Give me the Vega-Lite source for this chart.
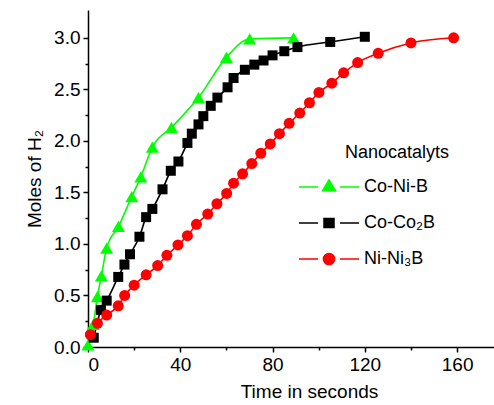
{
  "$schema": "https://vega.github.io/schema/vega-lite/v6.json",
  "width": 406,
  "height": 337,
  "autosize": {"type": "none"},
  "padding": {"left": 88, "top": 10, "right": 0, "bottom": 58},
  "config": {
    "view": {"stroke": null},
    "font": "Liberation Sans",
    "axis": {
      "grid": false,
      "domainColor": "black",
      "tickColor": "black",
      "labelColor": "black",
      "titleColor": "black",
      "labelFontSize": 19,
      "titleFontSize": 19,
      "titleFontWeight": "normal",
      "domainWidth": 1.5,
      "tickWidth": 1.5
    },
    "legend": {
      "title": "Nanocatalyts", "orient": "none", "legendX": 210, "legendY": 134, "symbolSize": 400, "labelOffset": 44, "rowPadding": 16, "titlePadding": 14, "labelFontSize": 18, "titleFontSize": 18, "titleFontWeight": "normal", "labelColor": "black", "titleColor": "black", "symbolStrokeWidth": 1.5, "symbolOpacity": 1,
      "symbolType": {"expr": "datum.value === 'Co-Ni-B' ? 'M-1,0H0.9M3.1,0H5M2,-0.7L2.65,0.37L1.35,0.37Z' : (datum.value === 'Ni-Ni₃B' ? 'M-1,0H0.9M3.1,0H5M2.56,0A0.56,0.56,0,1,1,1.44,0A0.56,0.56,0,1,1,2.56,0Z' : 'M-1,0H0.9M3.1,0H5M1.5,-0.45H2.5V0.45H1.5Z')"},
      "symbolFillColor": {"expr": "scale('color', datum.value)"},
      "symbolStrokeColor": {"expr": "scale('color', datum.value)"}
    }
  },
  "data": {
    "values": [
      {"s": "Co-Ni-B", "t": 0, "m": 0.02},
      {"s": "Co-Ni-B", "t": 2.3, "m": 0.22},
      {"s": "Co-Ni-B", "t": 4.1, "m": 0.49},
      {"s": "Co-Ni-B", "t": 5.8, "m": 0.69},
      {"s": "Co-Ni-B", "t": 8.1, "m": 0.96},
      {"s": "Co-Ni-B", "t": 13.2, "m": 1.17},
      {"s": "Co-Ni-B", "t": 19, "m": 1.46},
      {"s": "Co-Ni-B", "t": 22.9, "m": 1.65},
      {"s": "Co-Ni-B", "t": 27.9, "m": 1.94},
      {"s": "Co-Ni-B", "t": 36.2, "m": 2.13},
      {"s": "Co-Ni-B", "t": 47.9, "m": 2.42},
      {"s": "Co-Ni-B", "t": 60, "m": 2.81},
      {"s": "Co-Ni-B", "t": 70.1, "m": 2.99},
      {"s": "Co-Ni-B", "t": 89.1, "m": 3.0},
      {"s": "Co-Co₂B", "t": 2.5, "m": 0.09},
      {"s": "Co-Co₂B", "t": 5.6, "m": 0.36},
      {"s": "Co-Co₂B", "t": 8.1, "m": 0.45},
      {"s": "Co-Co₂B", "t": 13.1, "m": 0.68},
      {"s": "Co-Co₂B", "t": 15.8, "m": 0.8},
      {"s": "Co-Co₂B", "t": 18.2, "m": 0.9},
      {"s": "Co-Co₂B", "t": 22.3, "m": 1.07},
      {"s": "Co-Co₂B", "t": 25.2, "m": 1.26},
      {"s": "Co-Co₂B", "t": 27.9, "m": 1.34},
      {"s": "Co-Co₂B", "t": 32.3, "m": 1.53},
      {"s": "Co-Co₂B", "t": 35.9, "m": 1.71},
      {"s": "Co-Co₂B", "t": 39.2, "m": 1.8},
      {"s": "Co-Co₂B", "t": 43.1, "m": 1.98},
      {"s": "Co-Co₂B", "t": 45, "m": 2.07},
      {"s": "Co-Co₂B", "t": 47.9, "m": 2.16},
      {"s": "Co-Co₂B", "t": 50, "m": 2.24},
      {"s": "Co-Co₂B", "t": 53.2, "m": 2.34},
      {"s": "Co-Co₂B", "t": 56.1, "m": 2.42},
      {"s": "Co-Co₂B", "t": 60.5, "m": 2.52},
      {"s": "Co-Co₂B", "t": 63.1, "m": 2.61},
      {"s": "Co-Co₂B", "t": 68, "m": 2.69},
      {"s": "Co-Co₂B", "t": 72.1, "m": 2.74},
      {"s": "Co-Co₂B", "t": 76.1, "m": 2.78},
      {"s": "Co-Co₂B", "t": 80, "m": 2.83},
      {"s": "Co-Co₂B", "t": 85.1, "m": 2.87},
      {"s": "Co-Co₂B", "t": 90.8, "m": 2.91},
      {"s": "Co-Co₂B", "t": 105, "m": 2.96},
      {"s": "Co-Co₂B", "t": 120, "m": 3.01},
      {"s": "Ni-Ni₃B", "t": 1, "m": 0.12},
      {"s": "Ni-Ni₃B", "t": 4.1, "m": 0.23},
      {"s": "Ni-Ni₃B", "t": 8.1, "m": 0.31},
      {"s": "Ni-Ni₃B", "t": 13.1, "m": 0.4},
      {"s": "Ni-Ni₃B", "t": 15.9, "m": 0.5},
      {"s": "Ni-Ni₃B", "t": 20, "m": 0.6},
      {"s": "Ni-Ni₃B", "t": 25.2, "m": 0.7},
      {"s": "Ni-Ni₃B", "t": 30.2, "m": 0.79},
      {"s": "Ni-Ni₃B", "t": 34.2, "m": 0.89},
      {"s": "Ni-Ni₃B", "t": 39, "m": 0.99},
      {"s": "Ni-Ni₃B", "t": 43.1, "m": 1.08},
      {"s": "Ni-Ni₃B", "t": 47, "m": 1.19},
      {"s": "Ni-Ni₃B", "t": 51.9, "m": 1.29},
      {"s": "Ni-Ni₃B", "t": 55.9, "m": 1.39},
      {"s": "Ni-Ni₃B", "t": 60.1, "m": 1.49},
      {"s": "Ni-Ni₃B", "t": 63.1, "m": 1.59},
      {"s": "Ni-Ni₃B", "t": 67, "m": 1.68},
      {"s": "Ni-Ni₃B", "t": 71, "m": 1.78},
      {"s": "Ni-Ni₃B", "t": 74.9, "m": 1.88},
      {"s": "Ni-Ni₃B", "t": 79, "m": 1.97},
      {"s": "Ni-Ni₃B", "t": 83, "m": 2.07},
      {"s": "Ni-Ni₃B", "t": 87.2, "m": 2.17},
      {"s": "Ni-Ni₃B", "t": 91.8, "m": 2.27},
      {"s": "Ni-Ni₃B", "t": 96, "m": 2.37},
      {"s": "Ni-Ni₃B", "t": 100.1, "m": 2.47},
      {"s": "Ni-Ni₃B", "t": 105.7, "m": 2.56},
      {"s": "Ni-Ni₃B", "t": 110.8, "m": 2.66},
      {"s": "Ni-Ni₃B", "t": 116.9, "m": 2.76},
      {"s": "Ni-Ni₃B", "t": 125.8, "m": 2.85},
      {"s": "Ni-Ni₃B", "t": 140, "m": 2.95},
      {"s": "Ni-Ni₃B", "t": 158.5, "m": 3.0}
    ]
  },
  "resolve": {"axis": {"x": "independent", "y": "independent"}},
  "layer": [
    {
      "mark": {"type": "line", "interpolate": "monotone", "strokeWidth": 1.6},
      "encoding": {
        "x": {"field": "t", "type": "quantitative", "scale": {"domain": [0, 176], "nice": false},
          "axis": {"values": [0, 40, 80, 120, 160], "orient": "bottom", "tickSize": 5, "labelPadding": 3, "title": "Time in seconds", "titlePadding": 8, "titleX": 221}},
        "y": {"field": "m", "type": "quantitative", "scale": {"domain": [0, 3.27], "nice": false},
          "axis": {"values": [0, 0.5, 1, 1.5, 2, 2.5, 3], "format": ".1f", "orient": "left", "tickSize": 5, "labelPadding": 3, "title": "Moles of H₂", "titlePadding": 9}},
        "color": {"field": "s", "type": "nominal", "scale": {"domain": ["Co-Ni-B", "Co-Co₂B", "Ni-Ni₃B"], "range": ["#00ff00", "#000000", "#ff0000"]},
          "legend": {"title": "Nanocatalyts", "encode": {"title": {"update": {"dx": {"value": 47}}}}}}
      }
    },
    {
      "transform": [{"filter": "datum.s === 'Co-Ni-B'"}],
      "mark": {"type": "point", "filled": true, "opacity": 1, "shape": "triangle-up", "size": 170},
      "encoding": {
        "x": {"field": "t", "type": "quantitative", "axis": null},
        "y": {"field": "m", "type": "quantitative", "axis": null},
        "color": {"field": "s", "type": "nominal", "legend": {"title": "Nanocatalyts", "encode": {"title": {"update": {"dx": {"value": 47}}}}}}
      }
    },
    {
      "transform": [{"filter": "datum.s === 'Co-Co₂B'"}],
      "mark": {"type": "point", "filled": true, "opacity": 1, "shape": "square", "size": 100},
      "encoding": {
        "x": {"field": "t", "type": "quantitative", "axis": null},
        "y": {"field": "m", "type": "quantitative", "axis": null},
        "color": {"field": "s", "type": "nominal", "legend": {"title": "Nanocatalyts", "encode": {"title": {"update": {"dx": {"value": 47}}}}}}
      }
    },
    {
      "transform": [{"filter": "datum.s === 'Ni-Ni₃B'"}],
      "mark": {"type": "point", "filled": true, "opacity": 1, "shape": "circle", "size": 121},
      "encoding": {
        "x": {"field": "t", "type": "quantitative", "axis": null},
        "y": {"field": "m", "type": "quantitative", "axis": null},
        "color": {"field": "s", "type": "nominal", "legend": {"title": "Nanocatalyts", "encode": {"title": {"update": {"dx": {"value": 47}}}}}}
      }
    },
    {
      "mark": {"type": "point", "opacity": 0},
      "encoding": {
        "x": {"field": "t", "type": "quantitative",
          "axis": {"values": [20, 60, 100, 140], "orient": "bottom", "labels": false, "title": null, "domain": false, "tickSize": 3}},
        "y": {"field": "m", "type": "quantitative",
          "axis": {"values": [0.25, 0.75, 1.25, 1.75, 2.25, 2.75], "orient": "left", "labels": false, "title": null, "domain": false, "tickSize": 3}}
      }
    }
  ]
}
